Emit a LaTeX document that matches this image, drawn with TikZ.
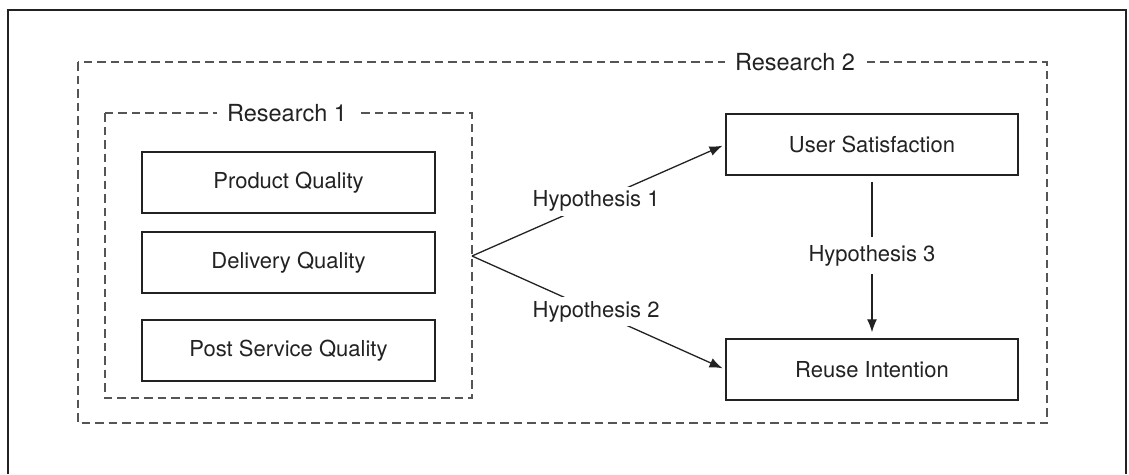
\documentclass[tikz,border=0pt]{standalone}
\usepackage{fontspec}
\setmainfont{TeX Gyre Heros}
\usetikzlibrary{arrows.meta}
\definecolor{ink}{HTML}{222222}
\definecolor{dashgray}{HTML}{555555}
\tikzset{
  qbox/.style={draw=ink, line width=1.4pt, minimum width=293pt, minimum height=61pt, inner sep=0pt, text=ink, font=\fontsize{22}{26}\selectfont},
  grp/.style={draw=dashgray, line width=1.3pt, dash pattern=on 8.5pt off 5pt},
  grplabel/.style={fill=white, inner xsep=10pt, inner ysep=2pt, text=ink, font=\fontsize{23.5}{28}\selectfont},
  hyplabel/.style={fill=white, inner sep=4pt, text=ink, font=\fontsize{22}{26}\selectfont},
  conn/.style={draw=ink, line width=1.3pt},
  tip/.style={-{Latex[length=13pt,width=10pt]}}
}
\begin{document}
\begin{tikzpicture}[x=1pt,y=-1pt]
\useasboundingbox (0,0) rectangle (1129,474);
% outer frame (open at the bottom)
\draw[draw=ink, line width=1.3pt] (8,474) -- (8,10) -- (1126,10) -- (1126,474);
% group boxes
\draw[grp] (78,62) rectangle (1047,423);
\draw[grp] (105,113) rectangle (472,398);
\node[grplabel] (r2) at (795,62) {Research 2};
\node[grplabel] (r1) at (287,113) {Research 1};
% boxes
\node[qbox] (pq) at (288.5,182.5) {Product Quality};
\node[qbox] (dq) at (288.5,262.5) {Delivery Quality};
\node[qbox] (ps) at (288.5,350.5) {Post Service Quality};
\node[qbox, minimum width=292pt] (us) at (872,144.5) {User Satisfaction};
\node[qbox, minimum width=292pt] (ri) at (872,369.5) {Reuse Intention};
% connectors
\coordinate (fork) at (472,256);
\draw[conn, tip, shorten >=3pt] (fork) -- node[hyplabel, pos=0.49] (h1) {Hypothesis 1} (us.west);
\draw[conn, tip, shorten >=3pt] (fork) -- node[hyplabel, pos=0.49] (h2) {Hypothesis 2} (ri.west);
\draw[conn, tip, shorten <=6pt, shorten >=6pt] (us.south) -- node[hyplabel, inner ysep=8pt, pos=0.49] (h3) {Hypothesis 3} (ri.north);
\end{tikzpicture}
\end{document}
